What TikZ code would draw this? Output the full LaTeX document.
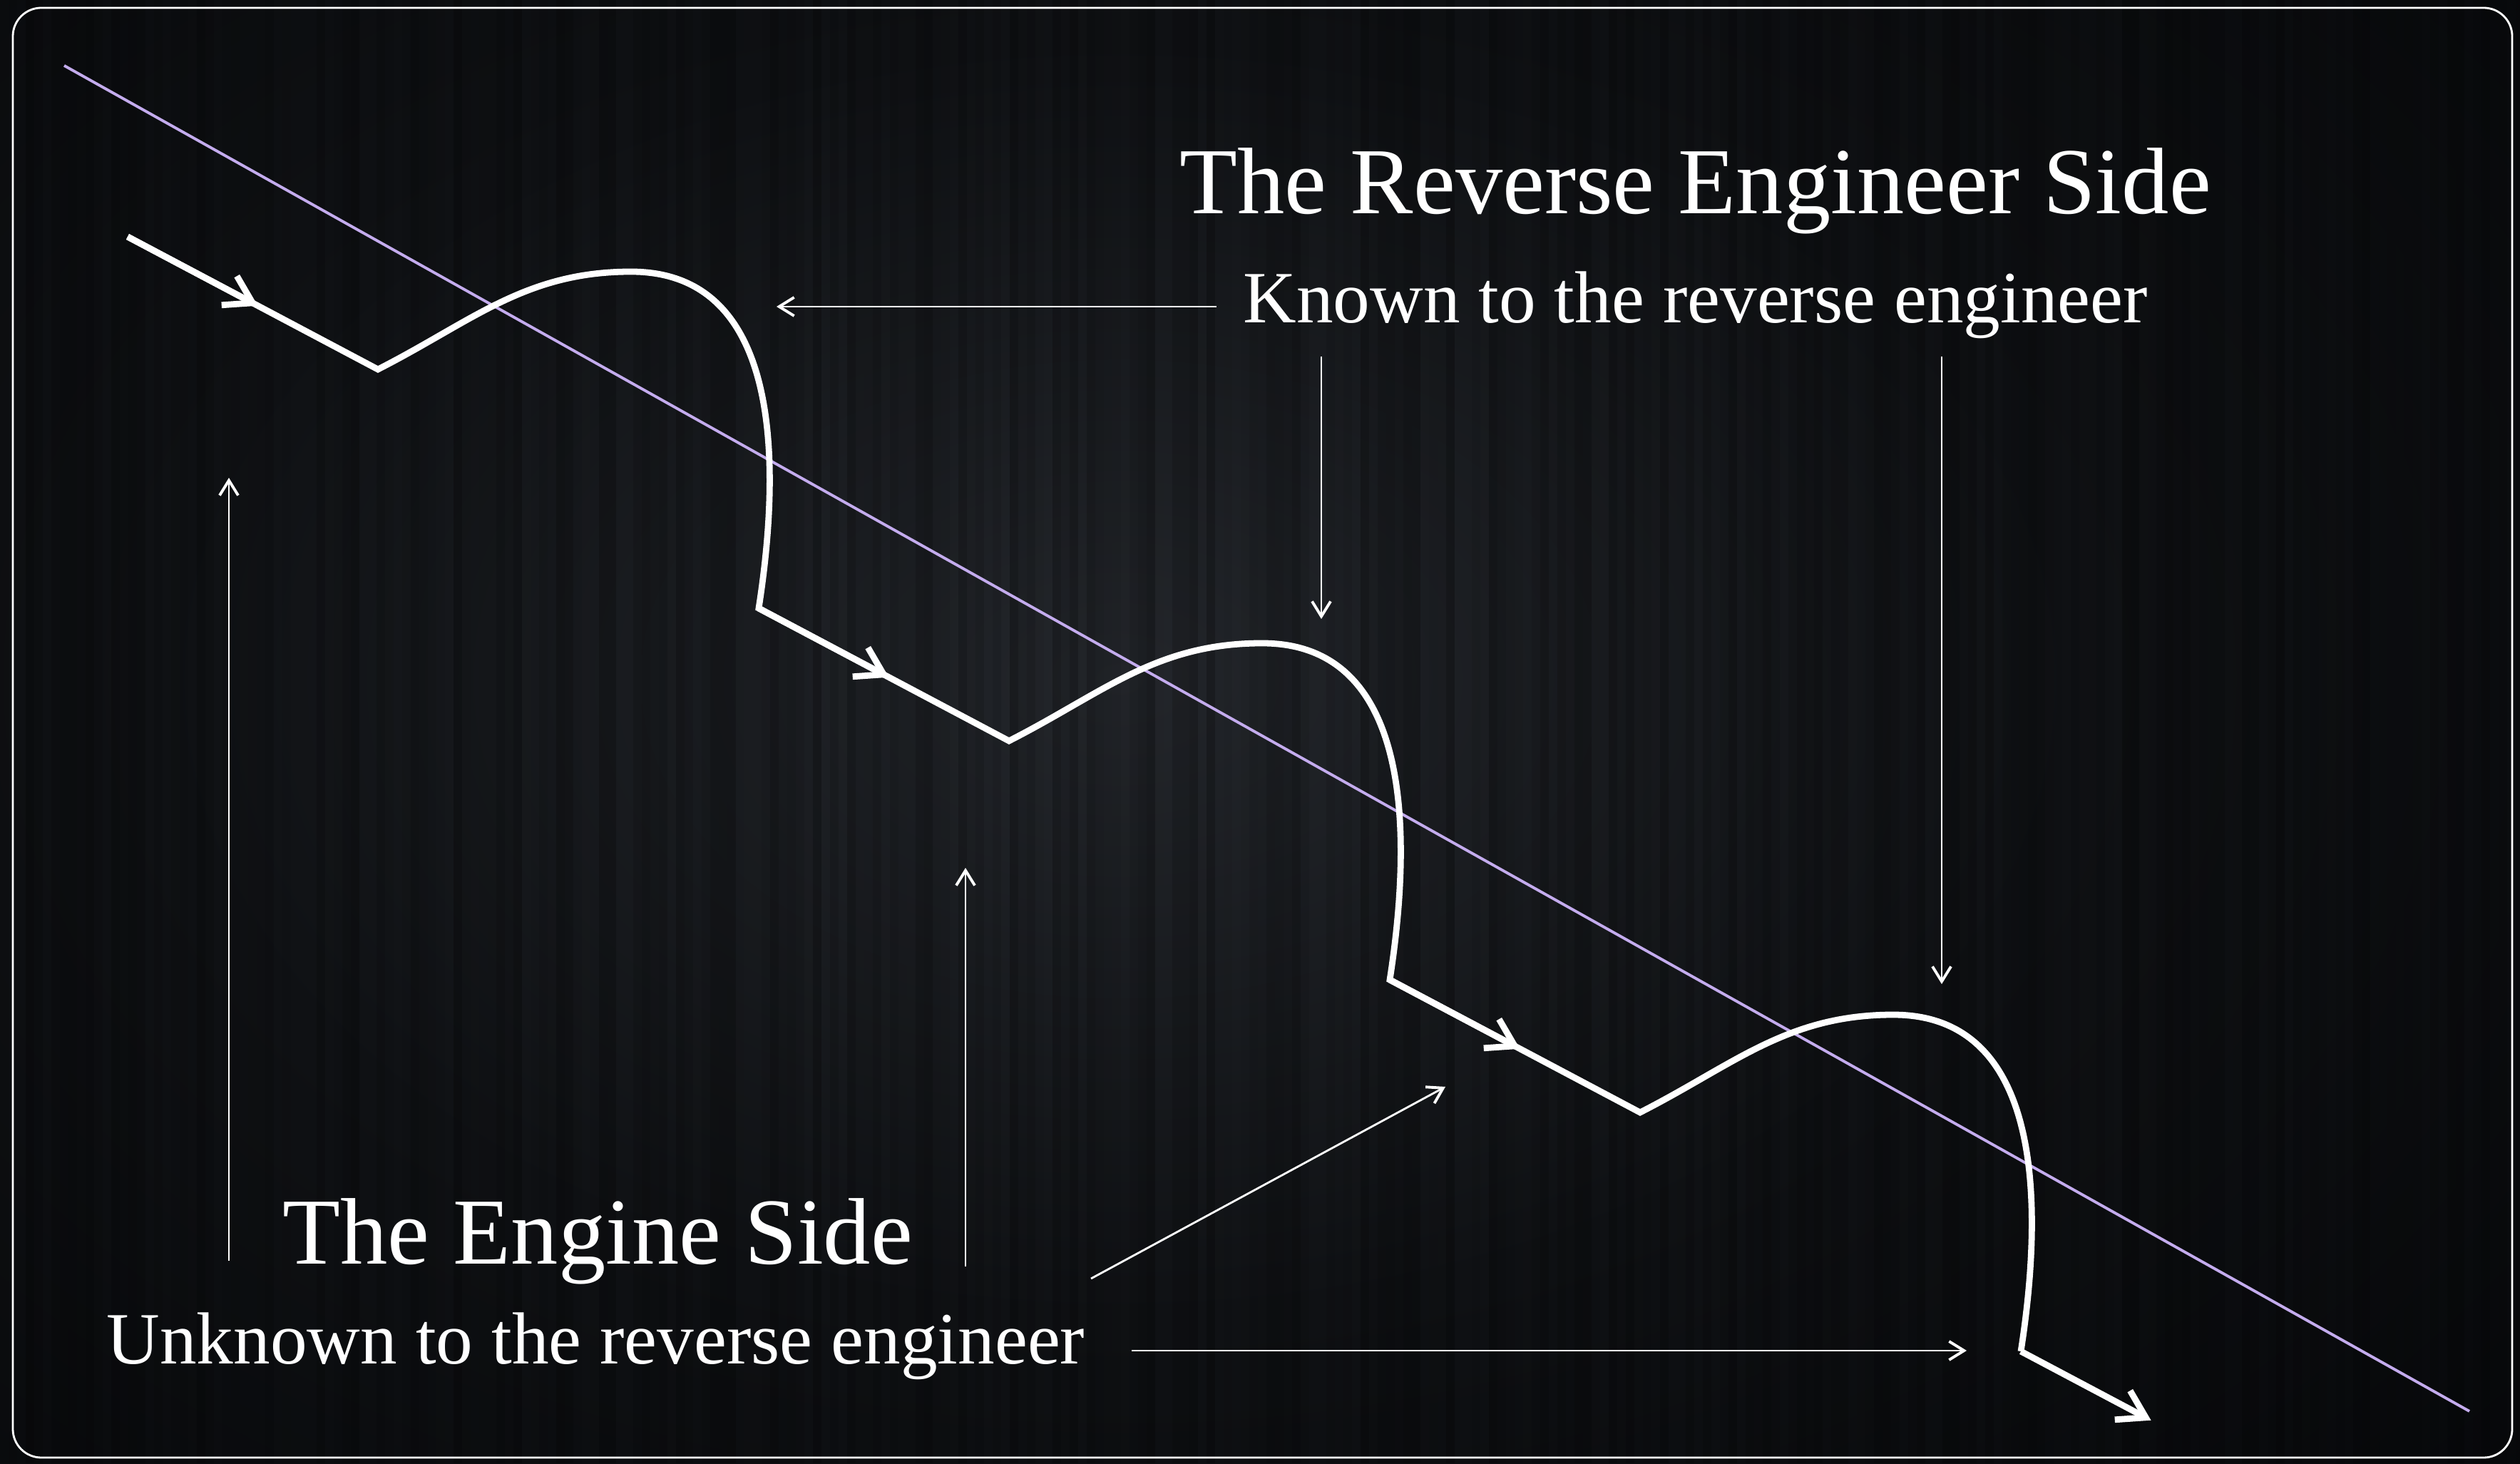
\documentclass[tikz,border=0pt]{standalone}
\usepackage{fontspec}
\setmainfont{Liberation Serif}
\usetikzlibrary{calc,arrows.meta}

\definecolor{bgin}{RGB}{36,39,44}
\definecolor{bgmid}{RGB}{16,18,21}
\definecolor{bgout}{RGB}{4,5,7}
\definecolor{lavender}{RGB}{196,172,238}
\pgfdeclareradialshading{woodglow}{\pgfpoint{0bp}{0bp}}{color(0bp)=(bgin); color(14bp)=(bgmid); color(34bp)=(bgout); color(75bp)=(bgout)}

\begin{document}
\begin{tikzpicture}[>={Straight Barb[length=2.1mm,width=2.6mm,line width=1.1pt]},
    every node/.style={text=white, inner sep=0pt},
    flow/.style={white, line width=2.5pt},
    flowtip/.style={-{Straight Barb[length=3.7mm,width=4.6mm]}},
    pointer/.style={white, line width=0.8pt, ->},
    bigtext/.style={font=\fontsize{37.7}{45}\selectfont},
    smalltext/.style={font=\fontsize{29.4}{35}\selectfont}]

    \useasboundingbox (0,0) rectangle (35.34,20.52);
    \fill[bgout] (0,0) rectangle (35.34,20.52);
    \begin{scope}
        \clip (0,0) rectangle (35.34,20.52);
        \shade[shading=woodglow] (-8.3,-5) rectangle (39.7,27);
        \pgfmathsetseed{42}
        \foreach \x in {0,0.12,...,35.3} {
            \pgfmathsetmacro\op{rnd*0.28}
            \fill[black, opacity=\op] (\x,0) rectangle ++(0.12,20.52);
        }
    \end{scope}
    \draw[white, line width=0.8pt, rounded corners=0.4cm] (0.18,0.08) rectangle (35.23,20.41);

    % dividing line
    \coordinate (div0) at (0.90,19.60);
    \coordinate (div1) at (34.63,0.73);
    \draw[lavender, line width=1.1pt] (div0) -- (div1);

    % the call path, one step per loop
    \foreach \i in {0,...,3} {
        \begin{scope}[shift={(\i*8.85,-\i*5.21)}]
            \coordinate (s\i) at (1.79,17.20);
            \coordinate (v\i) at (5.30,15.34);
            \coordinate (p\i) at (8.85,16.71);
            \coordinate (e\i) at (10.64,11.99);
        \end{scope}
    }
    \draw[flow] (s0) -- (v0) to[out=27,in=180] (p0) .. controls +(2,0) and +(0.36,2.31) .. (e0)
        -- (v1) to[out=27,in=180] (p1) .. controls +(2,0) and +(0.36,2.31) .. (e1)
        -- (v2) to[out=27,in=180] (p2) .. controls +(2,0) and +(0.36,2.31) .. (e2);
    \foreach \i in {0,1,2}
        \draw[flow, flowtip] (s\i) -- ($(s\i)!0.52!(v\i)$);
    \draw[flow, flowtip] (e2) -- ($(e2)!0.52!(v3)$);

    % labels
    \node[bigtext, anchor=base west] (reside) at (16.54,17.52) {The Reverse Engineer Side};
    \node[smalltext, anchor=base west] (known) at (17.43,15.99) {Known to the reverse engineer};
    \node[bigtext, anchor=base west] (engside) at (3.96,2.80) {The Engine Side};
    \node[smalltext, anchor=base west] (unknown) at (1.49,1.40) {Unknown to the reverse engineer};

    % pointers
    \coordinate (kl0) at (17.06,16.22);
    \coordinate (kl1) at (10.89,16.22);
    \coordinate (kd0) at (18.53,15.52);
    \coordinate (kd1) at (18.53,11.84);
    \coordinate (kr0) at (27.23,15.52);
    \coordinate (kr1) at (27.23,6.72);
    \coordinate (ul0) at (3.21,2.84);
    \coordinate (ul1) at (3.21,13.82);
    \coordinate (um0) at (13.54,2.76);
    \coordinate (um1) at (13.54,8.35);
    \coordinate (ud0) at (15.30,2.59);
    \coordinate (ud1) at (20.27,5.28);
    \coordinate (ur0) at (15.87,1.58);
    \coordinate (ur1) at (27.58,1.58);
    \draw[pointer] (kl0) -- (kl1);
    \draw[pointer] (kd0) -- (kd1);
    \draw[pointer] (kr0) -- (kr1);
    \draw[pointer] (ul0) -- (ul1);
    \draw[pointer] (um0) -- (um1);
    \draw[pointer] (ud0) -- (ud1);
    \draw[pointer] (ur0) -- (ur1);
\end{tikzpicture}
\end{document}
